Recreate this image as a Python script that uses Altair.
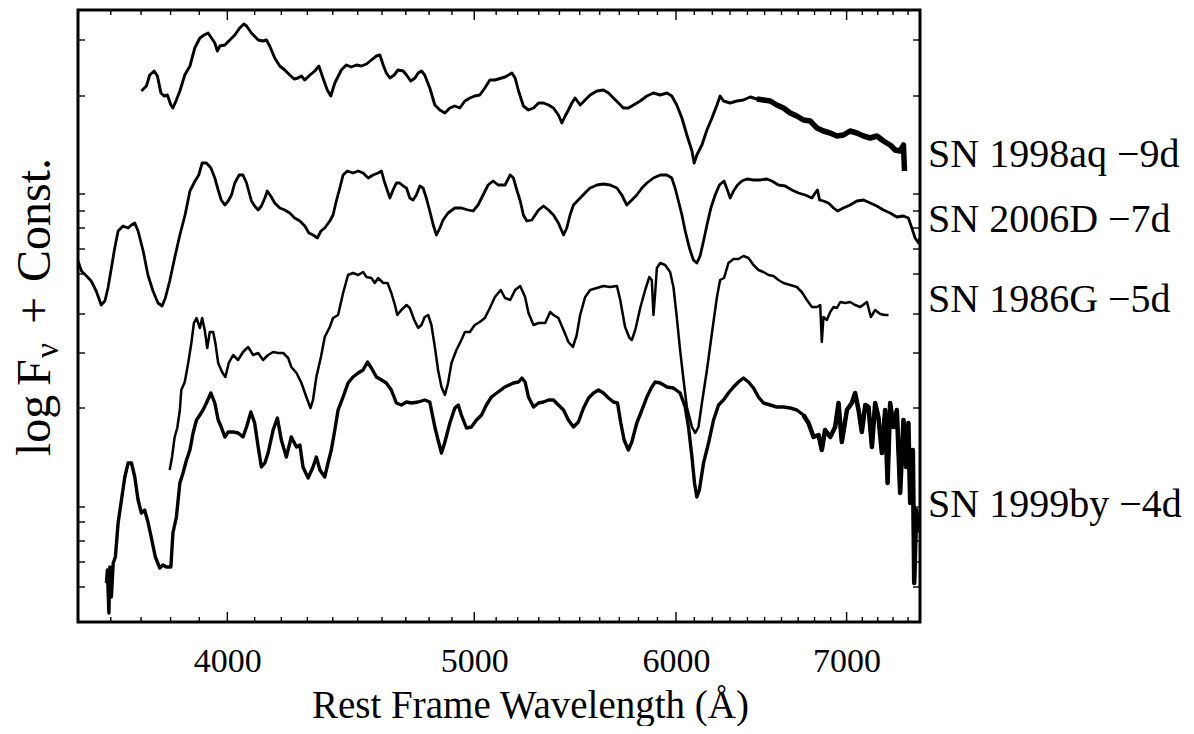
import altair as alt
import pandas as pd

# ---------------- data (wavelength in Angstrom, log F_nu + const) ----------------
SN1998AQ = [
    (3701, 5.31), (3718, 5.36), (3729, 5.47), (3744, 5.51), (3755, 5.46), (3767, 5.29),
    (3778, 5.26), (3789, 5.27), (3801, 5.17), (3808, 5.14), (3820, 5.22), (3832, 5.31),
    (3849, 5.47), (3867, 5.56), (3884, 5.74), (3902, 5.84), (3917, 5.87), (3931, 5.89),
    (3943, 5.84), (3955, 5.79), (3964, 5.71), (3973, 5.76), (3991, 5.77), (4009, 5.82),
    (4027, 5.87), (4045, 5.94), (4060, 5.98), (4070, 5.96), (4088, 5.89), (4113, 5.82),
    (4131, 5.81), (4144, 5.82), (4156, 5.76), (4175, 5.64), (4194, 5.56), (4213, 5.52),
    (4232, 5.47), (4249, 5.43), (4264, 5.44), (4277, 5.46), (4290, 5.42), (4310, 5.47),
    (4329, 5.51), (4345, 5.56), (4361, 5.44), (4378, 5.32), (4392, 5.26), (4408, 5.39),
    (4434, 5.52), (4454, 5.57), (4474, 5.55), (4495, 5.57), (4515, 5.56), (4536, 5.58),
    (4556, 5.62), (4577, 5.66), (4591, 5.67), (4605, 5.57), (4618, 5.49), (4633, 5.44),
    (4651, 5.47), (4667, 5.52), (4689, 5.51), (4703, 5.47), (4721, 5.41), (4739, 5.44),
    (4753, 5.49), (4767, 5.51), (4781, 5.47), (4803, 5.34), (4825, 5.17), (4847, 5.12),
    (4869, 5.09), (4891, 5.14), (4913, 5.16), (4935, 5.14), (4958, 5.21), (4980, 5.24),
    (5002, 5.26), (5025, 5.27), (5048, 5.34), (5071, 5.42), (5094, 5.42), (5141, 5.45),
    (5173, 5.49), (5188, 5.44), (5204, 5.31), (5227, 5.16), (5251, 5.12), (5275, 5.14),
    (5299, 5.19), (5323, 5.19), (5347, 5.17), (5371, 5.14), (5395, 5.07), (5412, 4.99),
    (5428, 5.06), (5444, 5.12), (5461, 5.19), (5477, 5.24), (5502, 5.17), (5527, 5.22),
    (5552, 5.27), (5586, 5.31), (5619, 5.32), (5645, 5.29), (5670, 5.24), (5696, 5.19),
    (5721, 5.14), (5747, 5.14), (5774, 5.17), (5809, 5.21), (5844, 5.26), (5879, 5.29),
    (5915, 5.27), (5951, 5.29), (5977, 5.26), (6004, 5.17), (6032, 5.04), (6059, 4.87),
    (6087, 4.71), (6099, 4.59), (6114, 4.67), (6142, 4.77), (6170, 4.92), (6198, 5.04),
    (6226, 5.17), (6244, 5.26), (6263, 5.21), (6301, 5.19), (6339, 5.21), (6377, 5.22),
    (6416, 5.25), (6455, 5.23), (6493, 5.22), (6533, 5.21), (6572, 5.17), (6612, 5.14),
    (6652, 5.09), (6692, 5.06), (6732, 5.02), (6773, 5.01), (6815, 4.94), (6855, 4.91),
    (6897, 4.89), (6939, 4.86), (6980, 4.87), (7022, 4.91), (7065, 4.89), (7108, 4.86),
    (7151, 4.84), (7194, 4.86), (7237, 4.81), (7281, 4.77), (7314, 4.72), (7347, 4.71),
    (7369, 4.77), (7376, 4.51),
]

SN2006D = [
    (3495, 3.61), (3506, 3.51), (3522, 3.46), (3537, 3.41), (3553, 3.31), (3569, 3.17),
    (3581, 3.21), (3591, 3.34), (3602, 3.54), (3613, 3.74), (3624, 3.91), (3640, 3.96),
    (3657, 3.94), (3668, 3.97), (3679, 3.99), (3690, 3.91), (3707, 3.71), (3723, 3.47),
    (3740, 3.31), (3757, 3.19), (3771, 3.16), (3782, 3.24), (3797, 3.41), (3814, 3.64),
    (3832, 3.87), (3850, 4.07), (3867, 4.31), (3885, 4.41), (3898, 4.47), (3910, 4.59),
    (3925, 4.59), (3941, 4.54), (3955, 4.44), (3967, 4.32), (3978, 4.22), (3991, 4.17),
    (4003, 4.21), (4015, 4.27), (4027, 4.39), (4043, 4.47), (4057, 4.47), (4070, 4.39),
    (4088, 4.21), (4100, 4.16), (4113, 4.12), (4125, 4.16), (4138, 4.24), (4147, 4.31),
    (4160, 4.26), (4175, 4.19), (4194, 4.14), (4213, 4.12), (4232, 4.09), (4251, 4.04),
    (4271, 4.01), (4290, 3.96), (4306, 3.89), (4322, 3.87), (4339, 3.84), (4353, 3.91),
    (4368, 3.94), (4388, 4.01), (4401, 4.07), (4414, 4.21), (4428, 4.34), (4441, 4.47),
    (4458, 4.51), (4481, 4.49), (4502, 4.51), (4522, 4.49), (4543, 4.44), (4563, 4.47),
    (4584, 4.49), (4598, 4.51), (4609, 4.41), (4623, 4.31), (4633, 4.24), (4646, 4.32),
    (4660, 4.39), (4674, 4.39), (4689, 4.36), (4703, 4.34), (4717, 4.24), (4731, 4.22),
    (4745, 4.27), (4760, 4.36), (4774, 4.34), (4788, 4.24), (4803, 4.11), (4818, 3.97),
    (4832, 3.87), (4847, 3.94), (4861, 4.02), (4883, 4.09), (4913, 4.14), (4942, 4.14),
    (4972, 4.12), (4995, 4.11), (5017, 4.17), (5040, 4.27), (5063, 4.37), (5086, 4.41),
    (5109, 4.37), (5141, 4.37), (5165, 4.47), (5180, 4.44), (5196, 4.32), (5212, 4.21),
    (5227, 4.07), (5243, 4.01), (5267, 4.02), (5283, 4.07), (5299, 4.12), (5323, 4.16),
    (5347, 4.12), (5371, 4.07), (5395, 3.99), (5420, 3.87), (5436, 3.94), (5452, 4.07),
    (5469, 4.17), (5502, 4.24), (5536, 4.31), (5552, 4.34), (5586, 4.37), (5619, 4.38),
    (5653, 4.37), (5688, 4.34), (5713, 4.27), (5739, 4.17), (5765, 4.22), (5791, 4.27),
    (5818, 4.34), (5844, 4.39), (5879, 4.44), (5915, 4.47), (5951, 4.47), (5977, 4.44),
    (5995, 4.34), (6013, 4.21), (6032, 4.07), (6050, 3.91), (6073, 3.74), (6095, 3.62),
    (6114, 3.59), (6132, 3.66), (6151, 3.81), (6170, 3.97), (6192, 4.14), (6216, 4.27),
    (6240, 4.37), (6266, 4.41), (6285, 4.32), (6301, 4.24), (6320, 4.31), (6343, 4.37),
    (6368, 4.41), (6397, 4.43), (6435, 4.42), (6474, 4.42), (6513, 4.43), (6543, 4.41),
    (6582, 4.37), (6622, 4.36), (6662, 4.32), (6702, 4.29), (6743, 4.27), (6784, 4.24),
    (6804, 4.29), (6818, 4.32), (6831, 4.22), (6855, 4.21), (6886, 4.19), (6918, 4.14),
    (6943, 4.11), (6980, 4.14), (7022, 4.17), (7065, 4.21), (7108, 4.22), (7151, 4.19),
    (7194, 4.16), (7237, 4.12), (7281, 4.09), (7325, 4.05), (7369, 4.06), (7402, 4.04),
    (7425, 3.94), (7447, 3.84), (7470, 3.79), (7481, 3.84),
]

SN1986G = [
    (3797, 1.52), (3805, 1.65), (3814, 1.85), (3823, 1.94), (3832, 2.12), (3837, 2.32),
    (3849, 2.40), (3861, 2.59), (3872, 2.79), (3881, 2.99), (3890, 3.04), (3902, 2.94),
    (3910, 3.04), (3919, 2.92), (3928, 2.74), (3937, 2.90), (3949, 2.90), (3957, 2.79),
    (3967, 2.59), (3981, 2.50), (3993, 2.45), (4005, 2.59), (4021, 2.67), (4039, 2.62),
    (4057, 2.70), (4076, 2.75), (4094, 2.67), (4113, 2.69), (4131, 2.62), (4150, 2.67),
    (4169, 2.70), (4188, 2.69), (4207, 2.69), (4226, 2.64), (4238, 2.55), (4258, 2.49),
    (4277, 2.39), (4296, 2.25), (4312, 2.14), (4322, 2.22), (4335, 2.45), (4353, 2.65),
    (4368, 2.85), (4388, 2.95), (4401, 3.04), (4421, 3.07), (4441, 3.29), (4461, 3.47),
    (4481, 3.49), (4502, 3.47), (4522, 3.50), (4536, 3.45), (4556, 3.44), (4570, 3.39),
    (4584, 3.44), (4605, 3.39), (4623, 3.39), (4639, 3.29), (4654, 3.17), (4664, 3.07),
    (4681, 3.12), (4703, 3.17), (4717, 3.14), (4736, 3.02), (4753, 2.94), (4767, 2.97),
    (4781, 3.05), (4796, 3.07), (4810, 2.97), (4825, 2.75), (4839, 2.52), (4854, 2.35),
    (4869, 2.27), (4883, 2.39), (4898, 2.59), (4920, 2.72), (4942, 2.82), (4958, 2.90),
    (4980, 2.90), (5002, 2.97), (5025, 3.00), (5048, 3.04), (5071, 3.14), (5094, 3.25),
    (5121, 3.32), (5141, 3.24), (5165, 3.22), (5188, 3.32), (5212, 3.36), (5235, 3.25),
    (5251, 3.09), (5275, 2.97), (5299, 2.99), (5331, 2.99), (5355, 3.10), (5371, 3.07),
    (5395, 3.04), (5420, 2.92), (5444, 2.80), (5466, 2.75), (5485, 2.87), (5502, 3.07),
    (5527, 3.25), (5552, 3.32), (5586, 3.34), (5619, 3.36), (5653, 3.35), (5688, 3.36),
    (5705, 3.22), (5730, 2.95), (5753, 2.84), (5765, 2.82), (5783, 2.92), (5809, 3.14),
    (5835, 3.32), (5857, 3.45), (5870, 3.42), (5879, 3.07), (5888, 3.29), (5897, 3.54),
    (5915, 3.59), (5941, 3.57), (5968, 3.50), (5986, 3.35), (6004, 3.05), (6022, 2.72),
    (6041, 2.42), (6059, 2.15), (6087, 1.95), (6105, 1.89), (6123, 1.95), (6142, 2.19),
    (6170, 2.52), (6198, 2.89), (6226, 3.25), (6244, 3.42), (6266, 3.44), (6291, 3.59),
    (6320, 3.63), (6348, 3.63), (6377, 3.66), (6406, 3.64), (6435, 3.57), (6464, 3.52),
    (6493, 3.50), (6523, 3.47), (6552, 3.46), (6582, 3.42), (6612, 3.39), (6652, 3.37),
    (6692, 3.35), (6722, 3.30), (6753, 3.22), (6784, 3.15), (6815, 3.15), (6835, 3.17),
    (6845, 2.80), (6855, 3.05), (6876, 3.02), (6897, 3.10), (6918, 3.15), (6939, 3.14),
    (6960, 3.20), (6991, 3.19), (7022, 3.20), (7054, 3.17), (7087, 3.15), (7130, 3.20),
    (7155, 3.05), (7183, 3.12), (7216, 3.08), (7248, 3.07), (7270, 3.07),
]

SN1999BY = [
    (3586, 0.39), (3589, 0.52), (3594, 0.09), (3597, 0.55), (3602, 0.25), (3608, 0.59),
    (3615, 0.65), (3624, 0.99), (3635, 1.22), (3646, 1.45), (3657, 1.59), (3668, 1.59),
    (3679, 1.45), (3690, 1.22), (3701, 1.09), (3712, 1.12), (3723, 1.00), (3734, 0.85),
    (3748, 0.65), (3763, 0.54), (3774, 0.57), (3786, 0.55), (3801, 0.55), (3808, 0.89),
    (3820, 1.05), (3832, 1.39), (3843, 1.49), (3855, 1.62), (3867, 1.72), (3878, 1.89),
    (3890, 2.02), (3902, 2.07), (3913, 2.12), (3925, 2.19), (3941, 2.29), (3955, 2.19),
    (3967, 2.02), (3978, 1.95), (3991, 1.85), (4003, 1.90), (4021, 1.90), (4039, 1.89),
    (4057, 1.85), (4070, 1.95), (4086, 2.10), (4100, 1.99), (4113, 1.75), (4125, 1.55),
    (4138, 1.59), (4150, 1.69), (4169, 1.92), (4185, 2.04), (4200, 1.82), (4219, 1.65),
    (4238, 1.85), (4258, 1.75), (4271, 1.77), (4283, 1.55), (4303, 1.44), (4322, 1.55),
    (4335, 1.65), (4349, 1.52), (4368, 1.45), (4381, 1.59), (4394, 1.72), (4408, 1.92),
    (4421, 2.12), (4441, 2.25), (4461, 2.39), (4481, 2.45), (4502, 2.49), (4522, 2.52),
    (4540, 2.60), (4556, 2.54), (4577, 2.45), (4598, 2.42), (4618, 2.39), (4639, 2.32),
    (4660, 2.19), (4681, 2.17), (4703, 2.20), (4724, 2.19), (4753, 2.20), (4781, 2.22),
    (4803, 2.20), (4825, 1.95), (4839, 1.82), (4854, 1.69), (4869, 1.80), (4891, 1.99),
    (4913, 2.14), (4928, 2.17), (4942, 2.07), (4965, 1.94), (4987, 1.95), (5010, 2.02),
    (5033, 2.07), (5055, 2.17), (5078, 2.25), (5109, 2.30), (5140, 2.35), (5180, 2.39),
    (5204, 2.40), (5220, 2.44), (5235, 2.40), (5251, 2.25), (5275, 2.15), (5299, 2.19),
    (5323, 2.20), (5347, 2.22), (5371, 2.22), (5395, 2.17), (5420, 2.12), (5444, 2.02),
    (5469, 1.95), (5493, 2.00), (5519, 2.14), (5544, 2.24), (5569, 2.29), (5594, 2.32),
    (5619, 2.29), (5645, 2.24), (5670, 2.20), (5691, 2.19), (5708, 1.99), (5725, 1.82),
    (5747, 1.72), (5765, 1.80), (5791, 1.99), (5818, 2.12), (5844, 2.25), (5870, 2.35),
    (5888, 2.40), (5915, 2.39), (5951, 2.35), (5986, 2.34), (6022, 2.29), (6050, 2.15),
    (6068, 1.95), (6087, 1.65), (6101, 1.39), (6114, 1.25), (6128, 1.32), (6151, 1.59),
    (6179, 1.79), (6207, 2.02), (6235, 2.17), (6263, 2.22), (6291, 2.29), (6320, 2.35),
    (6348, 2.40), (6377, 2.44), (6406, 2.40), (6435, 2.34), (6464, 2.25), (6493, 2.19),
    (6533, 2.17), (6572, 2.15), (6612, 2.15), (6652, 2.14), (6692, 2.12), (6732, 2.07),
    (6763, 1.99), (6794, 1.85), (6825, 1.87), (6845, 1.72), (6865, 1.92), (6897, 1.85),
    (6928, 1.95), (6949, 2.19), (6970, 1.80), (7002, 2.12), (7033, 2.19), (7054, 2.29),
    (7076, 2.12), (7097, 1.90), (7119, 2.17), (7140, 2.15), (7162, 1.75), (7183, 2.19),
    (7204, 2.05), (7227, 1.69), (7248, 2.12), (7264, 1.39), (7281, 2.19), (7303, 1.95),
    (7325, 2.12), (7347, 1.29), (7369, 2.02), (7387, 1.55), (7402, 1.99), (7414, 1.19),
    (7432, 1.72), (7441, 0.39), (7454, 1.12), (7470, 0.92), (7481, 1.05),
]

SERIES_NAMES = ["SN 1998aq", "SN 2006D", "SN 1986G", "SN 1999by"]
SERIES_DATA = [SN1998AQ, SN2006D, SN1986G, SN1999BY]
SERIES_WIDTH = [2.9, 2.8, 2.5, 3.4]          # line weights (style)
NOISY_FROM = [6450, 99999, 99999, 6700]       # where the spectrum turns into a noisy band
NOISY_WIDTH = [5.5, 0, 0, 4.5]

LABELS = ["SN 1998aq \u22129d", "SN 2006D \u22127d", "SN 1986G \u22125d", "SN 1999by \u22124d"]
LABEL_LEVEL = [4.67, 4.02, 3.22, 1.17]

X_MAJOR = [4000, 5000, 6000, 7000]
X_MINOR = [3600, 3700, 3800, 3900, 4100, 4200, 4300, 4400, 4500, 4600, 4700, 4800,
           4900, 5100, 5200, 5300, 5400, 5500, 5600, 5700, 5800, 5900, 6100, 6200,
           6300, 6400, 6500, 6600, 6700, 6800, 6900, 7100, 7200, 7300, 7400]
Y_TICKS = [5.82, 5.26, 4.28, 4.11, 3.94, 3.73, 3.48, 3.08, 2.69, 2.14, 1.15, 1.00,
           0.81, 0.60, 0.35]

# ---------------- build chart ----------------
rows, noisy = [], []
for name, series, sw, nf, nw in zip(SERIES_NAMES, SERIES_DATA, SERIES_WIDTH,
                                    NOISY_FROM, NOISY_WIDTH):
    for i, (w, f) in enumerate(series):
        rows.append({"sn": name, "i": i, "wl": w, "flux": f, "sw": sw})
        if w >= nf:
            noisy.append({"sn": name, "i": i, "wl": w, "flux": f, "sw": nw})
df = pd.DataFrame(rows)
df_noisy = pd.DataFrame(noisy)

W, H = 842, 612
FONT = "Liberation Serif"
xscale = alt.Scale(type="log", domain=[3495, 7480], nice=False)
yscale = alt.Scale(domain=[0, 6.12], nice=False, zero=False)
xaxis = alt.Axis(values=X_MAJOR, format="d", ticks=False, domain=False,
                 grid=False, labelFont=FONT, labelFontSize=34,
                 labelColor="black", labelPadding=22, labelFlush=False,
                 labelOverlap=False,
                 title="Rest Frame Wavelength (\u00c5)", titleFont=FONT,
                 titleFontSize=39, titleFontWeight="normal",
                 titleColor="black", titleX=452, titleY=95,
                 titleBaseline="alphabetic")
X = alt.X("wl:Q", scale=xscale, axis=xaxis)
Y = alt.Y("flux:Q", scale=yscale, axis=None)

lines = alt.Chart(df).mark_line(color="black", clip=True, strokeJoin="round").encode(
    x=X, y=Y, detail="sn:N", order="i:Q",
    strokeWidth=alt.StrokeWidth("sw:Q", scale=None),
)
noisy_lines = alt.Chart(df_noisy).mark_line(color="black", clip=True,
                                            strokeJoin="round").encode(
    x=X, y=Y, detail="sn:N", order="i:Q",
    strokeWidth=alt.StrokeWidth("sw:Q", scale=None),
)

minor_df = pd.DataFrame({"wl": X_MINOR})
major_df = pd.DataFrame({"wl": X_MAJOR})
yt_df = pd.DataFrame({"flux": Y_TICKS})


def xticks(data, length):
    bot = alt.Chart(data).mark_rule(color="black", strokeWidth=1.4).encode(
        x=X, y=alt.value(H), y2=alt.value(H - length))
    top = alt.Chart(data).mark_rule(color="black", strokeWidth=1.4).encode(
        x=X, y=alt.value(0), y2=alt.value(length))
    return [bot, top]


yt_left = alt.Chart(yt_df).mark_rule(color="black", strokeWidth=1.4).encode(
    y=Y, x=alt.value(0), x2=alt.value(7))
yt_right = alt.Chart(yt_df).mark_rule(color="black", strokeWidth=1.4).encode(
    y=Y, x=alt.value(W - 7), x2=alt.value(W))

lab_df = pd.DataFrame({"label": LABELS, "flux": LABEL_LEVEL})
labels = alt.Chart(lab_df).mark_text(align="left", baseline="middle", font=FONT,
                                     fontSize=40, color="black").encode(
    y=Y, x=alt.value(850), text="label:N")


# y-axis title built from pieces so that nu is a subscript
def ypiece(text, ypos, size, xpos):
    return alt.Chart(pd.DataFrame({"t": [text]})).mark_text(
        angle=270, align="left", baseline="alphabetic", font=FONT, fontSize=size,
        color="black").encode(x=alt.value(xpos), y=alt.value(ypos), text="t:N")


ytitle = [
    ypiece("log", 446, 48, -28),
    ypiece("F", 376, 48, -28),
    ypiece("\u03bd", 348, 33, -20),
    ypiece("+", 314, 48, -28),
    ypiece("Const.", 272, 48, -28),
]

layers = [lines, noisy_lines] + xticks(minor_df, 5) + xticks(major_df, 10) + \
         [yt_left, yt_right, labels] + ytitle

chart = alt.layer(*layers).properties(
    width=W, height=H,
    autosize=alt.AutoSizeParams(type="none"),
    padding={"left": 70, "top": 2, "right": 266, "bottom": 104},
    background="white",
).configure_view(stroke="black", strokeWidth=3)

chart.save("out.html", embed_options={"renderer": "svg", "actions": False})
